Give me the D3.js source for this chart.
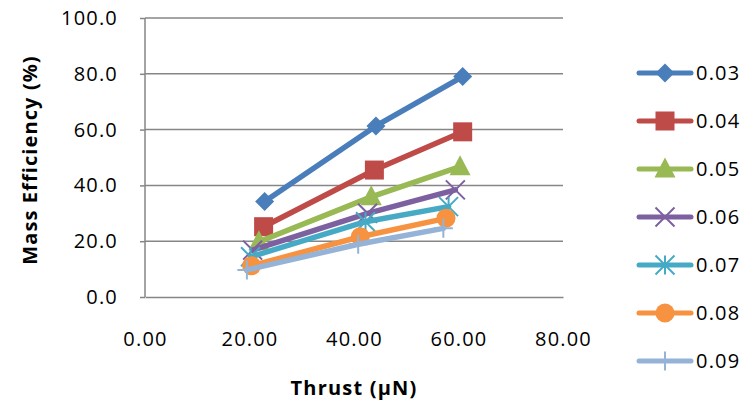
<!DOCTYPE html>
<html><head><meta charset="utf-8">
<script src="https://cdn.jsdelivr.net/npm/d3@7"></script>
<style>
html,body{margin:0;padding:0;background:#fff;}
svg{display:block;font-family:"Open Sans",sans-serif;}
</style></head>
<body>
<svg id="c" width="745" height="406"></svg>
<script>
const seriesNames = ["0.03","0.04","0.05","0.06","0.07","0.08","0.09"];
const thrust003 = [22.9, 44.2, 60.8];
const eff003    = [34.2, 61.3, 79.0];
const thrust004 = [22.7, 43.9, 60.8];
const eff004    = [25.2, 45.5, 59.2];
const thrust005 = [21.8, 43.3, 60.3];
const eff005    = [19.8, 35.9, 46.7];
const thrust006 = [20.6, 42.6, 59.4];
const eff006    = [16.8, 30.0, 38.4];
const thrust007 = [20.2, 42.2, 58.1];
const eff007    = [14.4, 27.0, 32.4];
const thrust008 = [20.4, 41.2, 57.6];
const eff008    = [11.2, 21.6, 28.2];
const thrust009 = [19.5, 40.8, 57.1];
const eff009    = [9.7, 18.9, 24.6];
const xTicks = [0, 20, 40, 60, 80];
const yTicks = [0, 20, 40, 60, 80, 100];

const colors = ["#4A7EBB","#BE4B48","#98B954","#7D60A0","#46AAC5","#F69240","#95B3D7"];
const markers = ["diamond","square","triangle","x","star","circle","plus"];
const xs = [thrust003,thrust004,thrust005,thrust006,thrust007,thrust008,thrust009];
const ys = [eff003,eff004,eff005,eff006,eff007,eff008,eff009];
const series = seriesNames.map((n,i)=>({name:n, color:colors[i], marker:markers[i],
  pts: xs[i].map((x,j)=>({x, y: ys[i][j]}))}));

const svg = d3.select("#c");
const x = d3.scaleLinear().domain([0,80]).range([145,563]);
const y = d3.scaleLinear().domain([0,100]).range([297,18]);
const grey = "#868686";

// gridlines
svg.append("g").selectAll("line").data(yTicks.filter(d=>d>0)).join("line")
  .attr("x1",145).attr("x2",563).attr("y1",d=>y(d)).attr("y2",d=>y(d))
  .attr("stroke",grey).attr("stroke-width",1.5);

// y axis
const yAxis = d3.axisLeft(y).tickValues(yTicks).tickSize(5).tickPadding(22).tickFormat(d3.format(".1f"));
const gy = svg.append("g").attr("transform","translate(145,0)").call(yAxis);
gy.select(".domain").attr("stroke",grey).attr("stroke-width",1.5).attr("d","M-0,18V297");
gy.selectAll(".tick line").attr("stroke",grey).attr("stroke-width",1.5);
gy.selectAll("text").attr("font-size",20).attr("font-family","Open Sans").attr("fill","#000").style("letter-spacing","1.2px");

// x axis
const xAxis = d3.axisBottom(x).tickValues(xTicks).tickSize(0).tickPadding(35).tickFormat(d3.format(".2f"));
const gx = svg.append("g").attr("transform","translate(0,297)").call(xAxis);
gx.select(".domain").attr("stroke",grey).attr("stroke-width",1.5);
gx.selectAll("text").attr("font-size",20).attr("font-family","Open Sans").attr("fill","#000").style("letter-spacing","1.2px");

// axis titles
svg.append("text").attr("x",354).attr("y",395).attr("text-anchor","middle")
  .attr("font-size",20).attr("font-weight","bold").style("letter-spacing","1.2px").text("Thrust (µN)");
svg.append("text").attr("transform","translate(37,160) rotate(-90)").attr("text-anchor","middle")
  .attr("font-size",20).attr("font-weight","bold").style("letter-spacing","1.1px").text("Mass Efficiency (%)");

function drawMarker(g, type, color, cx, cy){
  const s = 9.5;
  if(type==="diamond"){
    g.append("path").attr("d",`M${cx},${cy-s}L${cx+s},${cy}L${cx},${cy+s}L${cx-s},${cy}Z`).attr("fill",color);
  } else if(type==="square"){
    g.append("rect").attr("x",cx-s).attr("y",cy-s).attr("width",2*s).attr("height",2*s).attr("fill",color);
  } else if(type==="triangle"){
    g.append("path").attr("d",`M${cx},${cy-s-2}L${cx+s+1},${cy+s-1}L${cx-s-1},${cy+s-1}Z`).attr("fill",color);
  } else if(type==="circle"){
    g.append("circle").attr("cx",cx).attr("cy",cy).attr("r",s).attr("fill",color);
  } else if(type==="x"){
    g.append("path").attr("d",`M${cx-s},${cy-s}L${cx+s},${cy+s}M${cx-s},${cy+s}L${cx+s},${cy-s}`).attr("stroke",color).attr("stroke-width",2);
  } else if(type==="star"){
    g.append("path").attr("d",`M${cx-s},${cy-s}L${cx+s},${cy+s}M${cx-s},${cy+s}L${cx+s},${cy-s}M${cx},${cy-s}L${cx},${cy+s}`).attr("stroke",color).attr("stroke-width",2);
  } else if(type==="plus"){
    g.append("path").attr("d",`M${cx-s},${cy}L${cx+s},${cy}M${cx},${cy-s}L${cx},${cy+s}`).attr("stroke",color).attr("stroke-width",2);
  }
}

const line = d3.line().x(d=>x(d.x)).y(d=>y(d.y));
series.forEach(s=>{
  const g = svg.append("g");
  g.append("path").datum(s.pts).attr("d",line).attr("fill","none")
    .attr("stroke",s.color).attr("stroke-width",5.5).attr("stroke-linejoin","round").attr("stroke-linecap","round");
  s.pts.forEach(p=>drawMarker(g, s.marker, s.color, x(p.x), y(p.y)));
});

// legend
const legendY = d3.scalePoint().domain(seriesNames).range([73,361]);
series.forEach(s=>{
  const ly = legendY(s.name);
  const g = svg.append("g");
  g.append("line").attr("x1",639).attr("x2",691).attr("y1",ly).attr("y2",ly)
    .attr("stroke",s.color).attr("stroke-width",5).attr("stroke-linecap","round");
  drawMarker(g, s.marker, s.color, 665, ly);
  g.append("text").attr("x",696).attr("y",ly).attr("dy","0.35em").attr("font-size",20)
    .style("letter-spacing","1.2px").text(s.name);
});
</script>
</body></html>
